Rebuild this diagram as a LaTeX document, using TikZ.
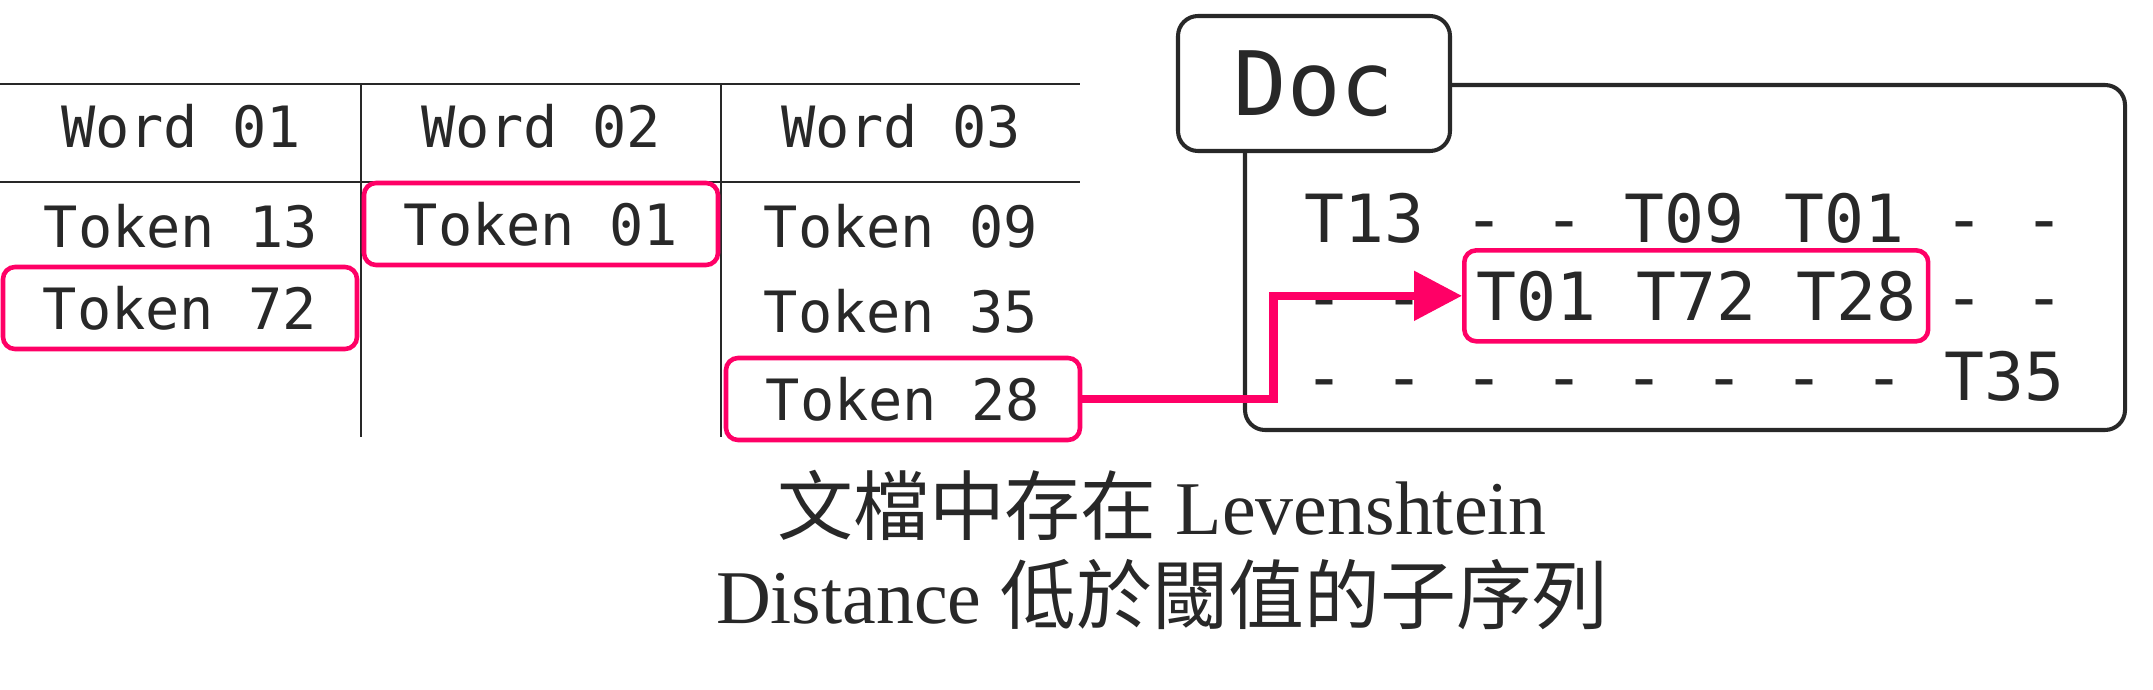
\documentclass[tikz,border=0pt]{standalone}
\usepackage{fontspec}
\setmainfont{Liberation Serif}
\setmonofont{DejaVu Sans Mono}
\newfontfamily\cjk{Noto Sans CJK TC}
\usetikzlibrary{arrows.meta,positioning}
\definecolor{hlpink}{RGB}{255,0,102}
\definecolor{ink}{RGB}{40,40,40}
\tikzset{
  cell/.style={minimum width=3.54cm,minimum height=0.82cm,inner sep=0pt,text=ink,
    font=\ttfamily\fontsize{16.2}{19}\selectfont},
  hit/.style={cell,draw=hlpink,line width=1.3pt,rounded corners=0.12cm},
  rowtext/.style={anchor=base west,inner sep=0pt,text=ink,
    font=\ttfamily\fontsize{18.9}{22}\selectfont},
  link/.style={hlpink,line width=2.4pt,-{Triangle[length=0.48cm,width=0.48cm]}},
}
\begin{document}
\begin{tikzpicture}
\useasboundingbox (0,0) rectangle (21.53,-6.90);

% word table
\draw[ink,line width=0.7pt] (0,-0.84) -- (10.80,-0.84);
\draw[ink,line width=0.7pt] (0,-1.82) -- (10.80,-1.82);
\draw[ink,line width=0.55pt] (3.61,-0.84) -- (3.61,-4.37);
\draw[ink,line width=0.55pt] (7.21,-0.84) -- (7.21,-4.37);
\node[cell] (w1) at (1.81,-1.26) {Word 01};
\node[cell] (w2) at (5.41,-1.26) {Word 02};
\node[cell] (w3) at (9.01,-1.26) {Word 03};
\node[cell] (t13) at (1.81,-2.26) {Token 13};
\node[hit] (t72) at (1.80,-3.08) {Token 72};
\node[hit] (t01) at (5.41,-2.24) {Token 01};
\node[cell] (t09) at (9.01,-2.26) {Token 09};
\node[cell] (t35) at (9.01,-3.11) {Token 35};
\node[hit] (t28) at (9.03,-3.99) {Token 28};

% document
\node[draw=ink,line width=1.15pt,rounded corners=0.2cm,minimum width=8.8cm,
  minimum height=3.45cm] (frame) at (16.85,-2.575) {};
\node[draw=ink,fill=white,line width=1.15pt,rounded corners=0.2cm,minimum width=2.72cm,
  minimum height=1.35cm,text=ink,font=\ttfamily\fontsize{25.3}{30}\selectfont] (doc)
  at (13.14,-0.835) {Doc};
\node[rowtext] (r1) at (13.04,-2.42) {T13 - - T09 T01 - -};
\node[rowtext] (r2a) at (13.04,-3.20) {- -};
\node[rowtext,draw=hlpink,line width=1.3pt,rounded corners=0.12cm,inner xsep=0.12cm,
  minimum height=0.91cm] (seq) at (14.62,-3.20) {T01 T72 T28};
\node[rowtext] (r2c) at (19.44,-3.20) {- -};
\node[rowtext] (r3) at (13.04,-4.00) {- - - - - - - - T35};

\draw[link] (t28.east) -- ++(1.91,0) |- (seq.west);

\node[align=center,text=ink,font=\fontsize{21.6}{25.3}\selectfont] (cap) at (11.62,-5.50)
  {{\cjk 文檔中存在} Levenshtein\\Distance {\cjk 低於閾值的子序列}};
\end{tikzpicture}
\end{document}
